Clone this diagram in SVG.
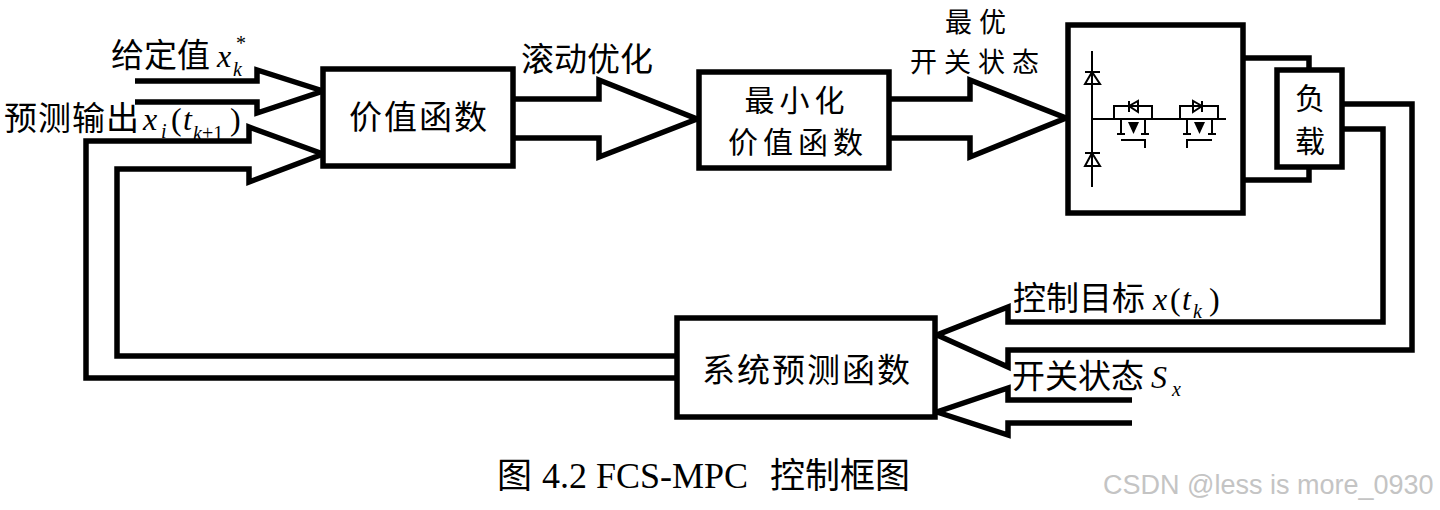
<svg xmlns="http://www.w3.org/2000/svg" width="1440" height="510" viewBox="0 0 1440 510">
<style>
.box{fill:#fff;stroke:#000;stroke-width:5.5}
.wire{fill:none;stroke:#000;stroke-width:5.5;stroke-linejoin:miter;stroke-miterlimit:10}
.thin{fill:none;stroke:#000;stroke-width:2}
.cn{font-family:"Noto Sans CJK SC","Liberation Serif",serif;font-size:33px;fill:#000}
.bx{font-family:"Noto Sans CJK SC","Liberation Serif",serif;font-size:33px;fill:#000;text-anchor:middle;letter-spacing:2px}
.st{font-family:"Noto Sans CJK SC","Liberation Serif",serif;font-size:30px;fill:#000;text-anchor:middle;letter-spacing:5px}
.m{font-family:"Liberation Serif",serif;font-size:32px;fill:#000}
.mi{font-family:"Liberation Serif",serif;font-size:32px;font-style:italic;fill:#000}
.sub{font-family:"Liberation Serif",serif;font-size:20px;font-style:italic;fill:#000}
.cap{font-family:"Liberation Serif","Noto Sans CJK SC",serif;font-size:35px;fill:#000}
.wm{font-family:"Liberation Sans",Arial,sans-serif;font-size:27px;fill:#c4c4c4}
</style>
<rect width="1440" height="510" fill="#fff"/>
<g id="connectors">
<polyline class="wire" points="135,81 257,81 257,70 323,91 257,113 257,102 135,102"/>
<polyline class="wire" points="677,378 86,378 86,141 249,141 249,127 323,154 249,182 249,169 117,169 117,356 677,356"/>
<polyline class="wire" points="513,99 599,99 599,80 697,119 599,157 599,138 513,138"/>
<polyline class="wire" points="889,99 970,99 970,80 1066,118 970,157 970,138 889,138"/>
<polyline class="wire" points="1243,58 1309,58 1309,70"/>
<polyline class="wire" points="1243,180 1309,180 1309,167"/>
<polyline class="wire" points="1342,104 1412,104 1412,350 1008,350 1008,367 937,335 1008,307 1008,322 1383,322 1383,129 1342,129"/>
<polyline class="wire" points="1132,400 1008,400 1008,388 937,412 1008,435 1008,423 1132,423"/>
</g>
<g id="labels">
<text class="cn" x="111" y="67">给定值</text>
<text class="mi" x="217" y="67">x</text>
<text class="sub" x="236" y="50" style="font-style:normal">*</text>
<text class="sub" x="233" y="76">k</text>
<text class="cn" x="4" y="130" style="letter-spacing:1px">预测输出</text>
<text class="mi" x="143" y="130">x</text>
<text class="sub" x="161" y="138">i</text>
<text class="m" x="171" y="130">(</text>
<text class="mi" x="183" y="130">t</text>
<text class="sub" x="193" y="140">k<tspan style="font-style:normal">+1</tspan></text>
<text class="m" x="230" y="130">)</text>
<text class="cn" x="521" y="71">滚动优化</text>
<text class="st" style="font-size:27px;letter-spacing:7px"><tspan x="979" y="32">最优</tspan><tspan x="978" y="72">开关状态</tspan></text>
<text class="cn" x="1013" y="310">控制目标</text>
<text class="mi" x="1153" y="310">x</text>
<text class="m" x="1170" y="310">(</text>
<text class="mi" x="1182" y="310">t</text>
<text class="sub" x="1193" y="318">k</text>
<text class="m" x="1209" y="310">)</text>
<text class="cn" x="1012" y="388">开关状态</text>
<text class="mi" x="1151" y="388">S</text>
<text class="sub" x="1172" y="396">x</text>
</g>
<g id="value-function">
<rect class="box" x="323" y="69" width="190" height="97"/>
<text class="bx" x="419" y="129">价值函数</text>
</g>
<g id="minimize">
<rect class="box" x="699" y="72" width="190" height="96"/>
<text class="st" x="797" y="111">最小化</text>
<text class="st" x="798" y="153">价值函数</text>
</g>
<g id="inverter">
<rect class="box" x="1068" y="25" width="175" height="188"/>
<line class="thin" x1="1092" y1="51" x2="1092" y2="187"/>
<line class="thin" x1="1085" y1="72" x2="1100" y2="72"/>
<polygon class="thin" points="1092,72 1085,84 1100,84"/>
<line class="thin" x1="1085" y1="153" x2="1100" y2="153"/>
<polygon class="thin" points="1092,153 1085,166 1100,166"/>
<line class="thin" x1="1092" y1="119" x2="1226" y2="119"/>
<polyline class="thin" points="1114,119 1114,106 1152,106 1152,119"/>
<line class="thin" x1="1129" y1="101" x2="1129" y2="112"/>
<polygon class="thin" points="1129,106 1138,101 1138,112"/>
<line class="thin" x1="1121" y1="119" x2="1121" y2="134"/>
<line class="thin" x1="1145" y1="119" x2="1145" y2="134"/>
<line class="thin" x1="1117" y1="134" x2="1125" y2="134"/>
<line class="thin" x1="1141" y1="134" x2="1149" y2="134"/>
<polygon points="1128,122 1139,122 1133.5,134" fill="#000"/>
<polyline class="thin" points="1121,140 1145,140 1145,148"/>
<polyline class="thin" points="1180,119 1180,106 1218,106 1218,119"/>
<line class="thin" x1="1202" y1="101" x2="1202" y2="112"/>
<polygon class="thin" points="1202,106 1193,101 1193,112"/>
<line class="thin" x1="1187" y1="119" x2="1187" y2="134"/>
<line class="thin" x1="1212" y1="119" x2="1212" y2="134"/>
<line class="thin" x1="1183" y1="134" x2="1191" y2="134"/>
<line class="thin" x1="1208" y1="134" x2="1216" y2="134"/>
<polygon points="1194,122 1205,122 1199.5,134" fill="#000"/>
<polyline class="thin" points="1212,140 1187,140 1187,148"/>
</g>
<g id="load">
<rect class="box" x="1277" y="70" width="65" height="97"/>
<text class="st" x="1310" y="109" style="letter-spacing:0">负</text>
<text class="st" x="1310" y="152" style="letter-spacing:0">载</text>
</g>
<g id="prediction">
<rect class="box" x="677" y="318" width="258" height="99"/>
<text class="bx" x="807" y="382">系统预测函数</text>
</g>
<g id="caption">
<text class="cap" x="497" y="488">图</text>
<text class="cap" x="542" y="488" textLength="206" lengthAdjust="spacingAndGlyphs">4.2 FCS-MPC</text>
<text class="cap" x="770" y="488">控制框图</text>
<text class="wm" x="1103" y="494">CSDN @less is more_0930</text>
</g>
</svg>
